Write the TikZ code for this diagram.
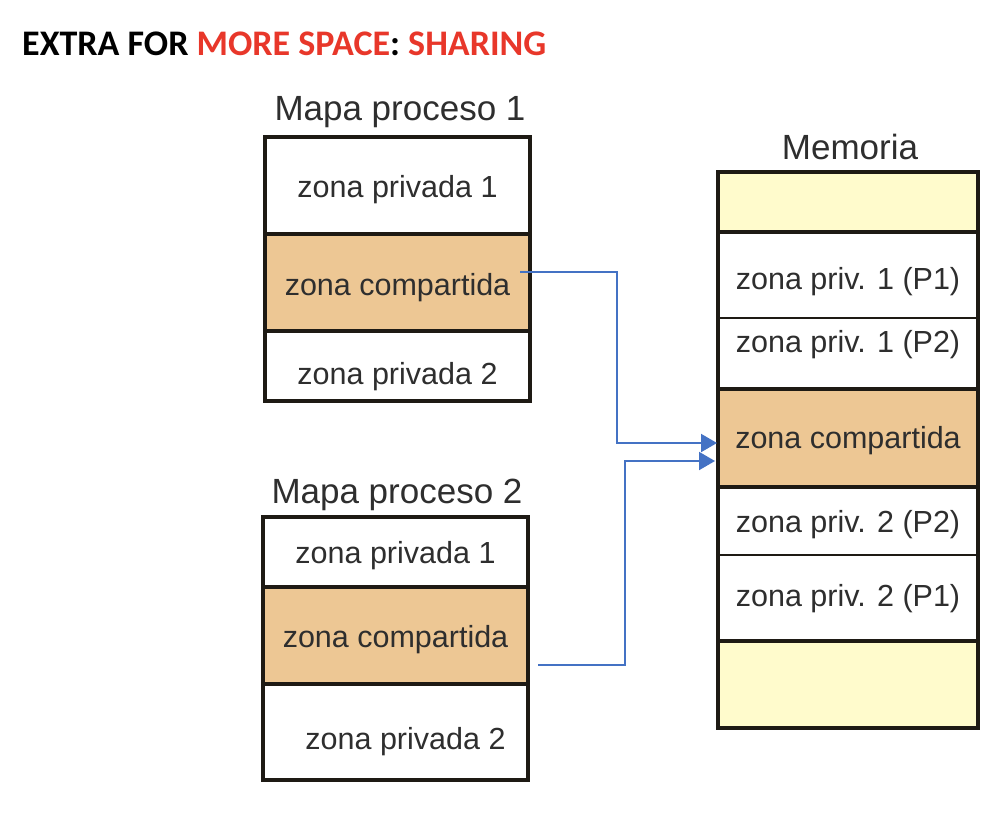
\documentclass[tikz,border=0pt]{standalone}
\usepackage{fontspec}
\setmainfont{Liberation Sans}
\newfontfamily\titlefont{Carlito}
\usetikzlibrary{arrows.meta,calc}
\definecolor{ttred}{HTML}{E8372A}
\definecolor{shared}{HTML}{EDC794}
\definecolor{pale}{HTML}{FFFBCC}
\definecolor{frame}{HTML}{1E1A14}
\definecolor{txt}{HTML}{2E2E2E}
\definecolor{link}{HTML}{4472C4}
\tikzset{
  row/.style={inner sep=0pt, outer sep=0pt, text=txt, text height=22pt, text depth=6pt, font=\fontsize{30.5}{32}\selectfont},
  frameline/.style={draw=frame, line width=3.5pt},
  thinline/.style={draw=frame, line width=2pt},
  label/.style={text=txt, font=\fontsize{35}{38}\selectfont, inner sep=0pt},
  conn/.style={draw=link, line width=2pt, -{Triangle[length=16pt,width=18pt]}},
}
\begin{document}
\begin{tikzpicture}[x=1pt,y=-1pt]
\useasboundingbox (0,0) rectangle (1008,838);
% title
\node[anchor=base west, inner sep=0pt] (title) at (22,55) {\titlefont\bfseries\fontsize{36}{40}\selectfont EXTRA FOR \textcolor{ttred}{MORE SPACE}: \textcolor{ttred}{SHARING}};

% Process 1
\node[label] (l1) at (400,112) {Mapa proceso 1};
\node[row, fill=white, minimum width=265, minimum height=97] (p1a) at (397.5,185.5) {\raisebox{-4pt}{zona privada 1}};
\node[row, fill=shared, minimum width=265, minimum height=97] (p1s) at (397.5,282.5) {\raisebox{-5pt}{zona compartida}};
\node[row, fill=white, minimum width=265, minimum height=70] (p1b) at (397.5,366) {\raisebox{-10pt}{zona privada 2}};
\draw[frameline] (p1a.north west) rectangle (p1b.south east);
\draw[frameline] (p1s.north west) -- (p1s.north east);
\draw[frameline] (p1s.south west) -- (p1s.south east);

% Process 2
\node[label] (l2) at (397,495) {Mapa proceso 2};
\node[row, fill=white, minimum width=265, minimum height=70] (p2a) at (395.5,552) {\raisebox{-3pt}{zona privada 1}};
\node[row, fill=shared, minimum width=265, minimum height=97] (p2s) at (395.5,635.5) {\raisebox{-4pt}{zona compartida}};
\node[row, fill=white, minimum width=265, minimum height=96] (p2b) at (395.5,732) {\hspace*{20pt}\raisebox{-9pt}{zona privada 2}};
\draw[frameline] (p2a.north west) rectangle (p2b.south east);
\draw[frameline] (p2s.north west) -- (p2s.north east);
\draw[frameline] (p2s.south west) -- (p2s.south east);

% Memory
\node[label] (lm) at (850,147) {Memoria};
\node[row, fill=pale, minimum width=260, minimum height=60] (m0) at (848,202) {};
\node[row, fill=white, minimum width=260, minimum height=86] (m1) at (848,275) {\raisebox{-6pt}{zona priv. 1 (P1)}};
\node[row, fill=white, minimum width=260, minimum height=71] (m2) at (848,353.5) {\raisebox{9pt}{zona priv. 1 (P2)}};
\node[row, fill=shared, minimum width=260, minimum height=98] (ms) at (848,438) {\raisebox{-2pt}{zona compartida}};
\node[row, fill=white, minimum width=260, minimum height=68] (m3) at (848,521) {\raisebox{-3pt}{zona priv. 2 (P2)}};
\node[row, fill=white, minimum width=260, minimum height=86] (m4) at (848,598) {zona priv. 2 (P1)};
\node[row, fill=pale, minimum width=260, minimum height=87] (m5) at (848,684.5) {};
\draw[frameline] (m0.north west) rectangle (m5.south east);
\draw[frameline] (m0.south west) -- (m0.south east);
\draw[thinline] (m1.south west) -- (m1.south east);
\draw[frameline] (ms.north west) -- (ms.north east);
\draw[frameline] (ms.south west) -- (ms.south east);
\draw[thinline] (m3.south west) -- (m3.south east);
\draw[frameline] (m4.south west) -- (m4.south east);

% connectors
\coordinate (s1) at ($(p1s.east)+(-10,-10.5)$);
\coordinate (s2) at ($(p2s.east)+(10,29.5)$);
\draw[conn] (s1) -- (617,272) -- (617,443) -- ($(ms.west)+(-1,5)$);
\draw[conn] (s2) -- (625,665) -- (625,461) -- ($(ms.west)+(-3,23)$);
\end{tikzpicture}
\end{document}
